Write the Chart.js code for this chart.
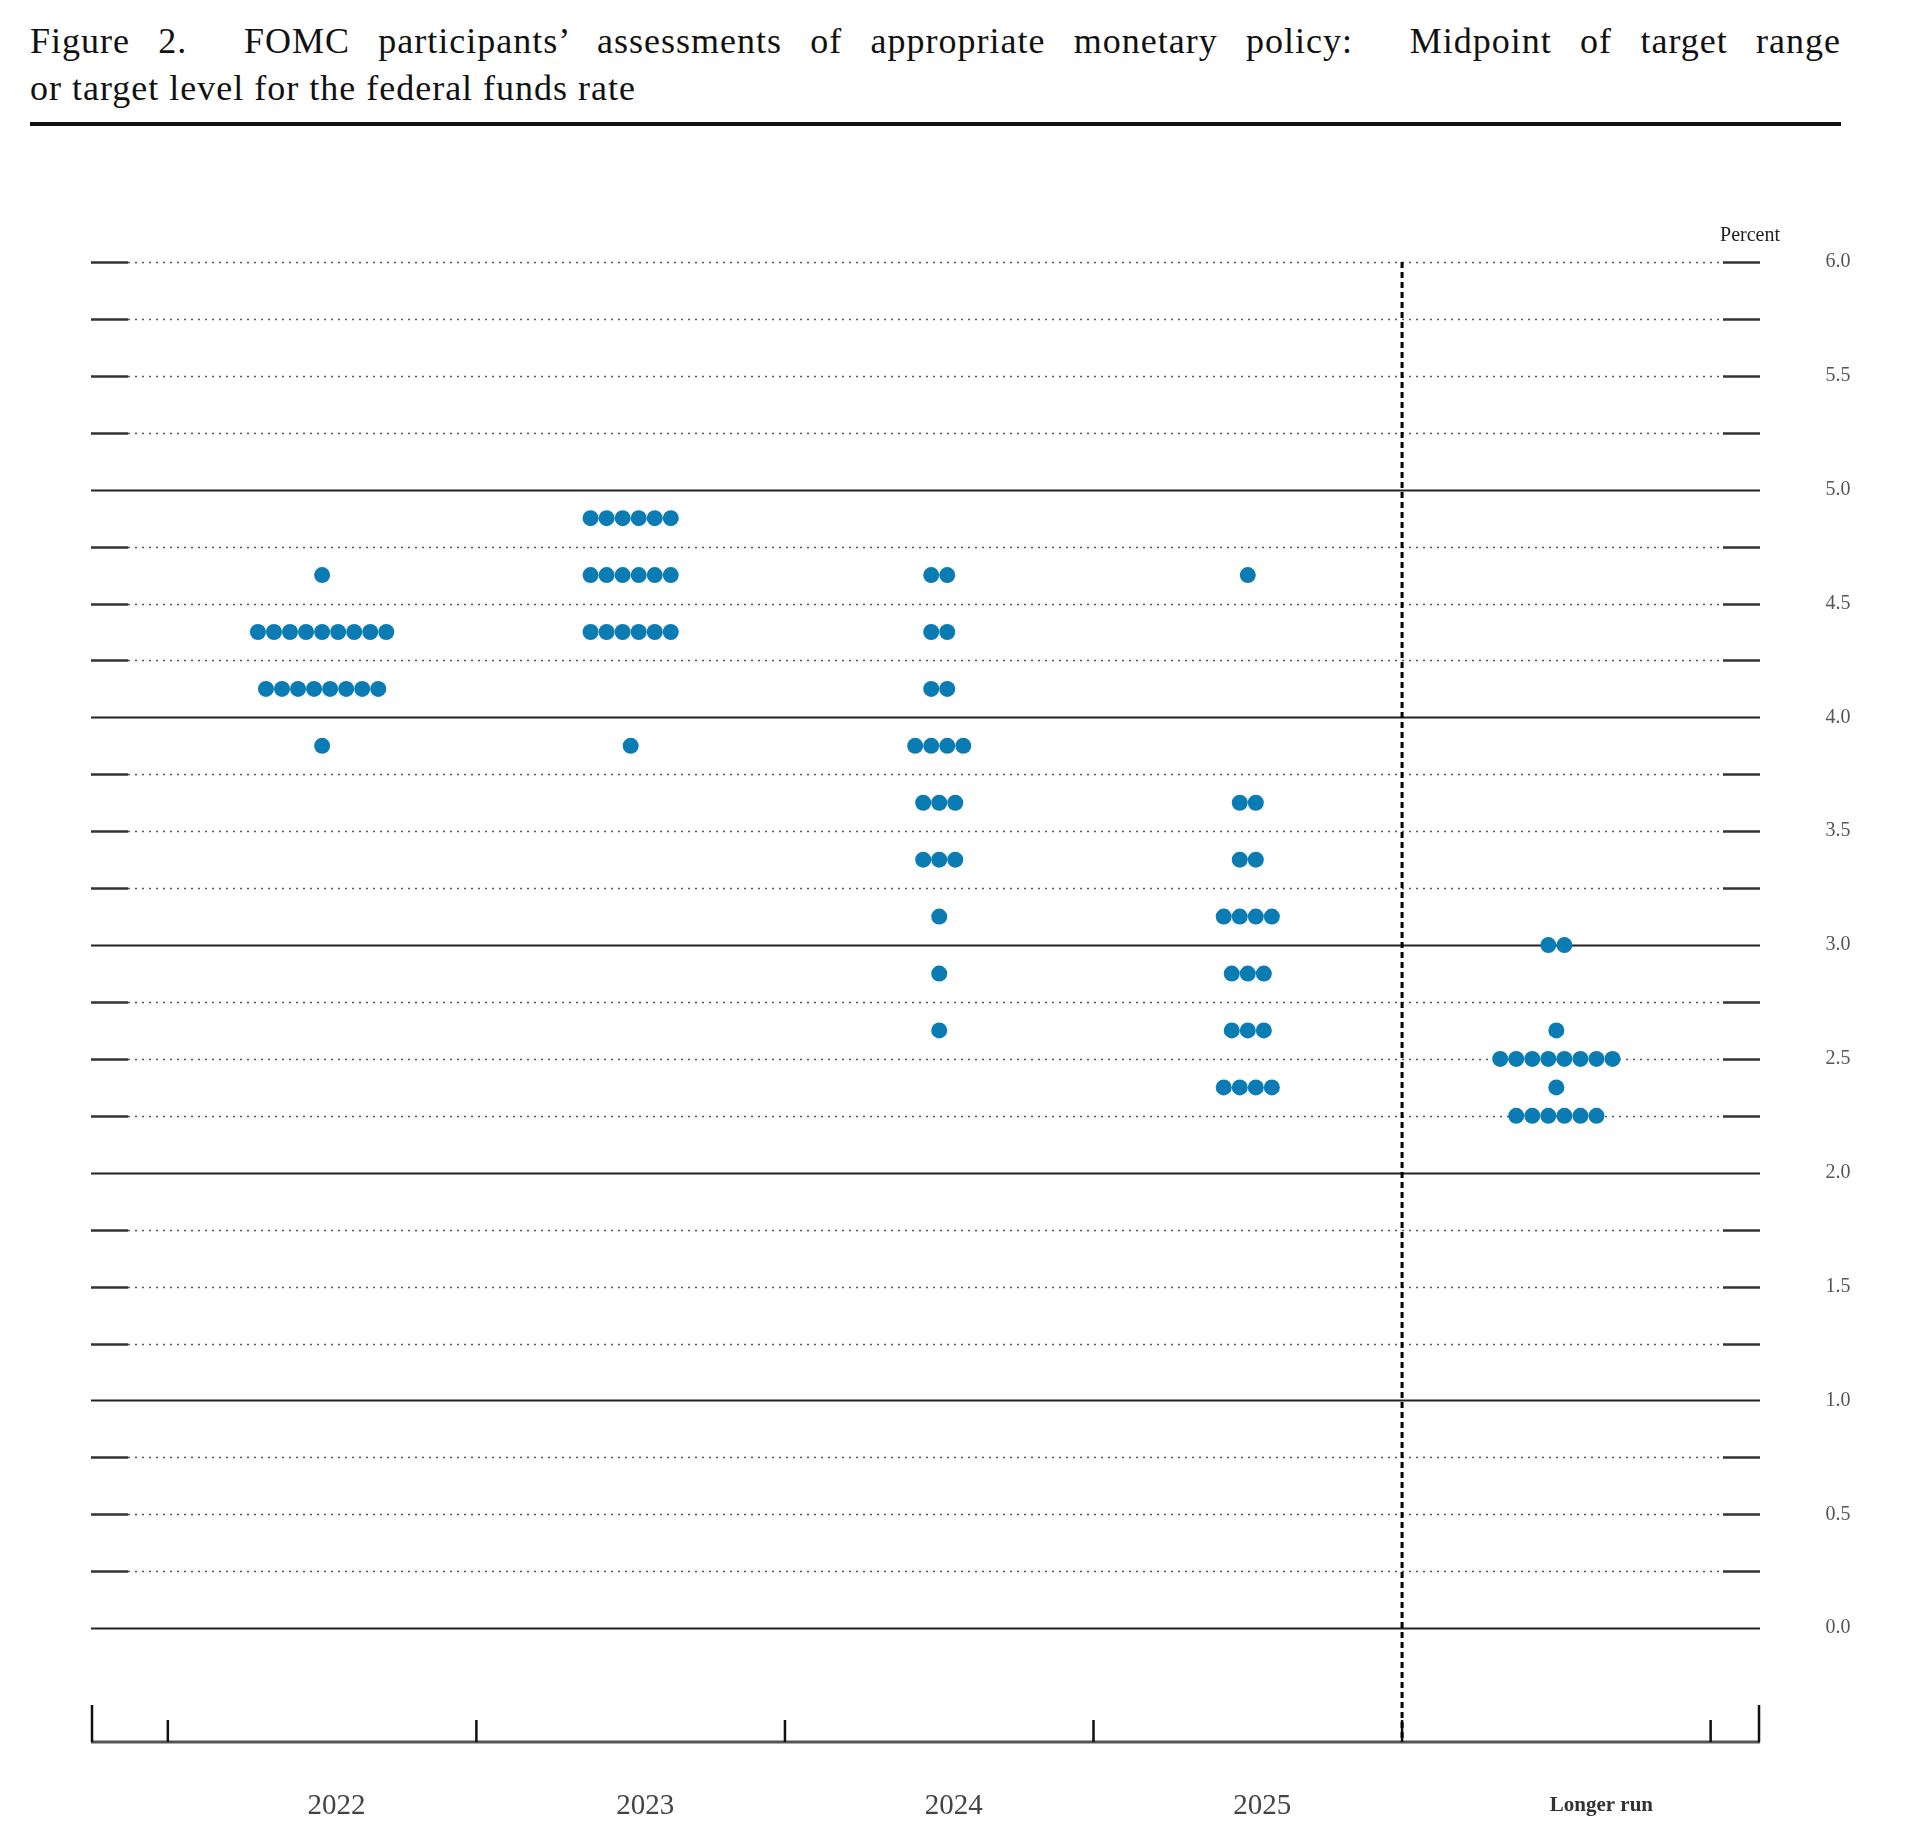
<!DOCTYPE html>
<html><head><meta charset="utf-8">
<script src="https://cdn.jsdelivr.net/npm/chart.js@4"></script>
<style>
body{margin:0;width:1910px;height:1836px;background:#fff;position:relative;overflow:hidden}
.t{position:absolute;left:30px;width:1811px;font-family:"Liberation Serif","DejaVu Serif",serif;font-size:36px;line-height:47px;color:#111;letter-spacing:1px;white-space:nowrap}
#t1{top:18px;text-align:justify;text-align-last:justify;white-space:normal}
#t2{top:65px;text-align:left}
#rule{position:absolute;left:30px;top:122px;width:1811px;height:4px;background:#111}
canvas{position:absolute;left:0;top:0}
</style></head><body>
<div class="t" id="t1">Figure 2.&nbsp; FOMC participants’ assessments of appropriate monetary policy:&nbsp; Midpoint of target range</div>
<div class="t" id="t2">or target level for the federal funds rate</div>
<div id="rule"></div>
<canvas id="c" width="1910" height="1836"></canvas>
<script>
const categories = ["2022","2023","2024","2025","Longer run"];
const tickLabels = ["0.0","0.5","1.0","1.5","2.0","2.5","3.0","3.5","4.0","4.5","5.0","5.5","6.0"];
const levels2022 = [4.625,4.375,4.125,3.875];
const counts2022 = [1,9,8,1];
const levels2023 = [4.875,4.625,4.375,3.875];
const counts2023 = [6,6,6,1];
const levels2024 = [4.625,4.375,4.125,3.875,3.625,3.375,3.125,2.875,2.625];
const counts2024 = [2,2,2,4,3,3,1,1,1];
const levels2025 = [4.625,3.625,3.375,3.125,2.875,2.625,2.375];
const counts2025 = [1,2,2,4,3,3,4];
const levelsLR = [3.0,2.625,2.5,2.375,2.25];
const countsLR = [2,1,8,1,6];

const groups = [[levels2022,counts2022],[levels2023,counts2023],[levels2024,counts2024],[levels2025,counts2025],[levelsLR,countsLR]];
const step = 0.052;
const pts = [];
groups.forEach(([lv,ct],ci)=>{
  lv.forEach((y,k)=>{const n=ct[k];for(let j=0;j<n;j++)pts.push({x:ci+(j-(n-1)/2)*step,y:y});});
});

const deco = {
  id:'deco',
  beforeDatasetsDraw(chart){
    const ctx=chart.ctx, xs=chart.scales.x, ys=chart.scales.y, a=chart.chartArea;
    const L=a.left, R=a.right;
    ctx.save();
    for(let v=0;v<=6.001;v+=0.25){
      const y=Math.round(ys.getPixelForValue(v))+0.5;
      const isInt=Math.abs(v-Math.round(v))<1e-6 && v<5.5;
      if(isInt){
        ctx.setLineDash([]);ctx.strokeStyle='#222';ctx.lineWidth=2;
        ctx.beginPath();ctx.moveTo(L,y);ctx.lineTo(R,y);ctx.stroke();
      } else {
        ctx.setLineDash([2,5]);ctx.strokeStyle='#555';ctx.lineWidth=1.5;
        ctx.beginPath();ctx.moveTo(L+37,y);ctx.lineTo(R-37,y);ctx.stroke();
        ctx.setLineDash([]);ctx.strokeStyle='#333';ctx.lineWidth=2.5;
        ctx.beginPath();ctx.moveTo(L,y);ctx.lineTo(L+37,y);ctx.moveTo(R-37,y);ctx.lineTo(R,y);ctx.stroke();
      }
    }
    const yb=ys.getPixelForValue(-0.5);
    ctx.setLineDash([]);ctx.strokeStyle='#555';ctx.lineWidth=3;
    ctx.beginPath();ctx.moveTo(L,yb);ctx.lineTo(R,yb);ctx.stroke();
    ctx.strokeStyle='#111';ctx.lineWidth=2.5;
    ctx.beginPath();
    for(let b=-0.5;b<=4.51;b+=1){const x=xs.getPixelForValue(b);ctx.moveTo(x,yb);ctx.lineTo(x,yb-22);}
    ctx.moveTo(L+1,yb);ctx.lineTo(L+1,yb-37);ctx.moveTo(R-1,yb);ctx.lineTo(R-1,yb-37);
    ctx.stroke();
    const xd=xs.getPixelForValue(3.5);
    ctx.setLineDash([6,4]);ctx.lineWidth=3;ctx.strokeStyle='#000';
    ctx.beginPath();ctx.moveTo(xd,ys.getPixelForValue(6));ctx.lineTo(xd,yb);ctx.stroke();
    ctx.setLineDash([]);
    ctx.fillStyle='#555';ctx.font='20px "Liberation Serif", serif';ctx.textAlign='center';ctx.textBaseline='middle';
    tickLabels.forEach(t=>ctx.fillText(t,1838,ys.getPixelForValue(parseFloat(t))));
    ctx.fillStyle='#222';ctx.font='20px "Liberation Serif", serif';
    ctx.fillText('Percent',1750,236);
    categories.forEach((c,i)=>{
      if(i<4){ctx.font='29px "Liberation Serif", serif';ctx.fillStyle='#444';ctx.fillText(c,xs.getPixelForValue(i+0.047),1806);}
      else {ctx.font='bold 21px "Liberation Serif", serif';ctx.fillStyle='#333';ctx.fillText(c,xs.getPixelForValue(i+0.146),1806);}
    });
    ctx.restore();
  }
};

new Chart(document.getElementById('c'),{
  type:'scatter',
  data:{datasets:[{data:pts,pointRadius:8,pointHoverRadius:8,backgroundColor:'#0b7bb3',borderWidth:0}]},
  options:{
    responsive:false,animation:false,
    layout:{padding:{left:91,right:150,top:262,bottom:94}},
    plugins:{legend:{display:false},tooltip:{enabled:false}},
    scales:{
      x:{type:'linear',min:-0.749,max:4.66,display:false},
      y:{type:'linear',min:-0.5,max:6,display:false}
    }
  },
  plugins:[deco]
});
</script>
</body></html>
